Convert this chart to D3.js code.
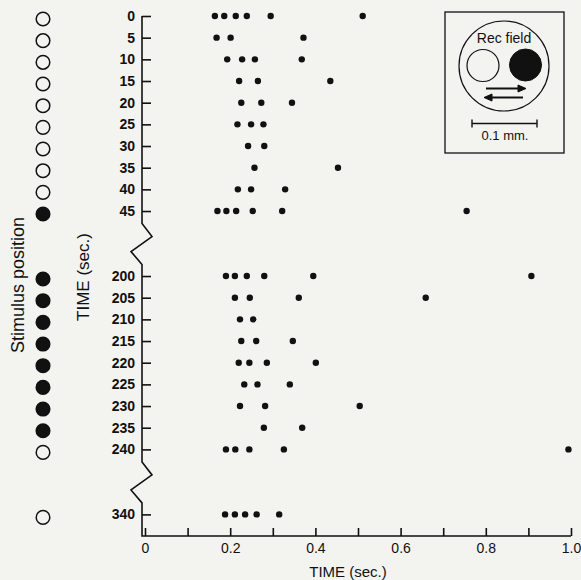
<!DOCTYPE html>
<meta charset="utf-8">
<style>
body {
  margin: 0;
  background: #f3f3f0;
}
svg {
  display: block;
  font-family: "Liberation Sans", Arial, Helvetica, sans-serif;
}
.axis path, .axis line, .axisline {
  stroke: #111;
  stroke-width: 1.6px;
  fill: none;
}
.ylab text {
  font-size: 14px;
  font-weight: bold;
  fill: #111;
}
.xlab text {
  font-size: 14px;
  fill: #111;
}
.title {
  font-size: 16px;
  fill: #111;
}
.spike {
  fill: #111;
}
</style>
<body>
<script src="https://cdn.jsdelivr.net/npm/d3@7"></script>
<script>

// stimulus onset times (sec) on each trial, the rows of the raster
var rows = [0, 5, 10, 15, 20, 25, 30, 35, 40, 45,
            200, 205, 210, 215, 220, 225, 230, 235, 240,
            340];

// where the axis is broken (empty slots)
var breaks = [["b1", "b2"], ["b3", "b4"]];

// stimulus position for each row: true = filled spot
var stimulus = [false, false, false, false, false, false, false, false, false, true,
                true, true, true, true, true, true, true, true, false,
                false];

// spike times (sec) per row
var spikes = [
  [0.164, 0.186, 0.213, 0.239, 0.295, 0.511],
  [0.168, 0.201, 0.372],
  [0.193, 0.228, 0.258, 0.368],
  [0.221, 0.265, 0.435],
  [0.226, 0.273, 0.345],
  [0.217, 0.249, 0.278],
  [0.242, 0.280],
  [0.257, 0.453],
  [0.218, 0.249, 0.329],
  [0.170, 0.191, 0.214, 0.253, 0.322, 0.755],
  [0.190, 0.211, 0.239, 0.280, 0.395, 0.907],
  [0.211, 0.246, 0.361, 0.659],
  [0.223, 0.254],
  [0.226, 0.261, 0.347],
  [0.220, 0.245, 0.286, 0.401],
  [0.233, 0.264, 0.340],
  [0.223, 0.282, 0.504],
  [0.279, 0.369],
  [0.190, 0.212, 0.245, 0.326, 0.994],
  [0.188, 0.211, 0.235, 0.262, 0.315]
];

var xTicks = [0, 0.1, 0.2, 0.3, 0.4, 0.5, 0.6, 0.7, 0.8, 0.9, 1.0];
var xTickLabels = ["0", "", "0.2", "", "0.4", "", "0.6", "", "0.8", "", "1.0"];

var width = 581, height = 580;
var axisX = 142, axisY = 536;

var svg = d3.select("body").append("svg")
    .attr("width", width)
    .attr("height", height);

// slots: rows with two empty slots at each break
var slots = rows.slice(0, 10).map(String)
    .concat(breaks[0])
    .concat(rows.slice(10, 19).map(String))
    .concat(breaks[1])
    .concat(rows.slice(19).map(String));

var y = d3.scalePoint()
    .domain(slots)
    .range([16, 514.4]);

var x = d3.scaleLinear()
    .domain([0, 1])
    .range([145, 571]);

/* ------- Y AXIS with breaks ------- */
var yAxis = d3.axisLeft(y)
    .tickValues(rows.map(String))
    .tickSizeInner(-9)
    .tickSizeOuter(0)
    .tickPadding(7);

svg.append("g")
    .attr("class", "axis ylab")
    .attr("transform", "translate(" + axisX + ",0)")
    .call(yAxis)
    .call(function(g) { g.select(".domain").remove(); });

var b1 = (y("b1") + y("b2")) / 2,
    b2 = (y("b3") + y("b4")) / 2;
var zig = function(m) {
  return [[axisX, m - 20], [axisX + 10, m - 7], [axisX - 11, m + 8], [axisX, m + 21]];
};
var pts = [[axisX, y("0")]].concat(zig(b1)).concat(zig(b2)).concat([[axisX, axisY], [x(1), axisY]]);

svg.append("path")
    .attr("class", "axisline")
    .attr("d", d3.line()(pts));

/* ------- X AXIS ------- */
var xAxis = d3.axisBottom(x)
    .tickValues(xTicks)
    .tickFormat(function(d, i) { return xTickLabels[i]; })
    .tickSizeInner(-8)
    .tickSizeOuter(0)
    .tickPadding(7);

svg.append("g")
    .attr("class", "axis xlab")
    .attr("transform", "translate(0," + axisY + ")")
    .call(xAxis)
    .call(function(g) { g.select(".domain").remove(); });

/* ------- SPIKES ------- */
var row = svg.append("g").selectAll("g")
    .data(spikes)
    .enter().append("g")
    .attr("transform", function(d, i) { return "translate(0," + y(String(rows[i])) + ")"; });

row.selectAll("circle")
    .data(function(d) { return d; })
    .enter().append("circle")
    .attr("class", "spike")
    .attr("cx", function(d) { return x(d); })
    .attr("cy", 0)
    .attr("r", 3.2);

/* ------- STIMULUS POSITION ------- */
svg.append("g").selectAll("circle")
    .data(stimulus)
    .enter().append("circle")
    .attr("cx", 43)
    .attr("cy", function(d, i) { return y(String(rows[i])) + 3; })
    .attr("r", 6.8)
    .style("fill", function(d) { return d ? "#111" : "none"; })
    .style("stroke", "#111")
    .style("stroke-width", 1.5);

/* ------- TITLES ------- */
svg.append("text")
    .attr("class", "title")
    .style("font-size", "15px")
    .attr("x", 348)
    .attr("y", 577)
    .attr("text-anchor", "middle")
    .text("TIME (sec.)");

svg.append("text")
    .attr("class", "title")
    .style("font-size", "17px")
    .attr("transform", "translate(89,277) rotate(-90)")
    .attr("text-anchor", "middle")
    .text("TIME (sec.)");

svg.append("text")
    .attr("class", "title")
    .style("font-size", "18px")
    .attr("transform", "translate(24,285) rotate(-90)")
    .attr("text-anchor", "middle")
    .text("Stimulus position");

/* ------- INSET ------- */
var inset = svg.append("g")
    .style("stroke", "#111")
    .style("fill", "none");

inset.append("rect")
    .attr("x", 445).attr("y", 12)
    .attr("width", 119).attr("height", 141)
    .style("stroke-width", 1.3);

inset.append("circle")
    .attr("cx", 504).attr("cy", 66).attr("r", 45)
    .style("stroke-width", 1.2);

inset.append("circle")
    .attr("cx", 483).attr("cy", 65.5).attr("r", 16)
    .style("stroke-width", 1.2);

inset.append("circle")
    .attr("cx", 525.5).attr("cy", 65).attr("r", 16)
    .style("fill", "#111");

inset.append("line")
    .attr("x1", 486).attr("x2", 519).attr("y1", 88.5).attr("y2", 88.5)
    .style("stroke-width", 2);
inset.append("path")
    .attr("d", "M518,85L526,88.5L518,92Z")
    .style("fill", "#111");

inset.append("line")
    .attr("x1", 491).attr("x2", 523).attr("y1", 97.5).attr("y2", 97.5)
    .style("stroke-width", 2);
inset.append("path")
    .attr("d", "M492,94L484,97.5L492,101Z")
    .style("fill", "#111");

inset.append("path")
    .attr("d", "M472,123.5H537M472,119.5V127.5M537,119.5V127.5")
    .style("stroke-width", 1.4);

svg.append("text")
    .attr("x", 504).attr("y", 43)
    .attr("text-anchor", "middle")
    .style("font-size", "14px")
    .style("fill", "#111")
    .text("Rec field");

svg.append("text")
    .attr("x", 505).attr("y", 140)
    .attr("text-anchor", "middle")
    .style("font-size", "13px")
    .style("fill", "#111")
    .text("0.1 mm.");

</script>
</body>
